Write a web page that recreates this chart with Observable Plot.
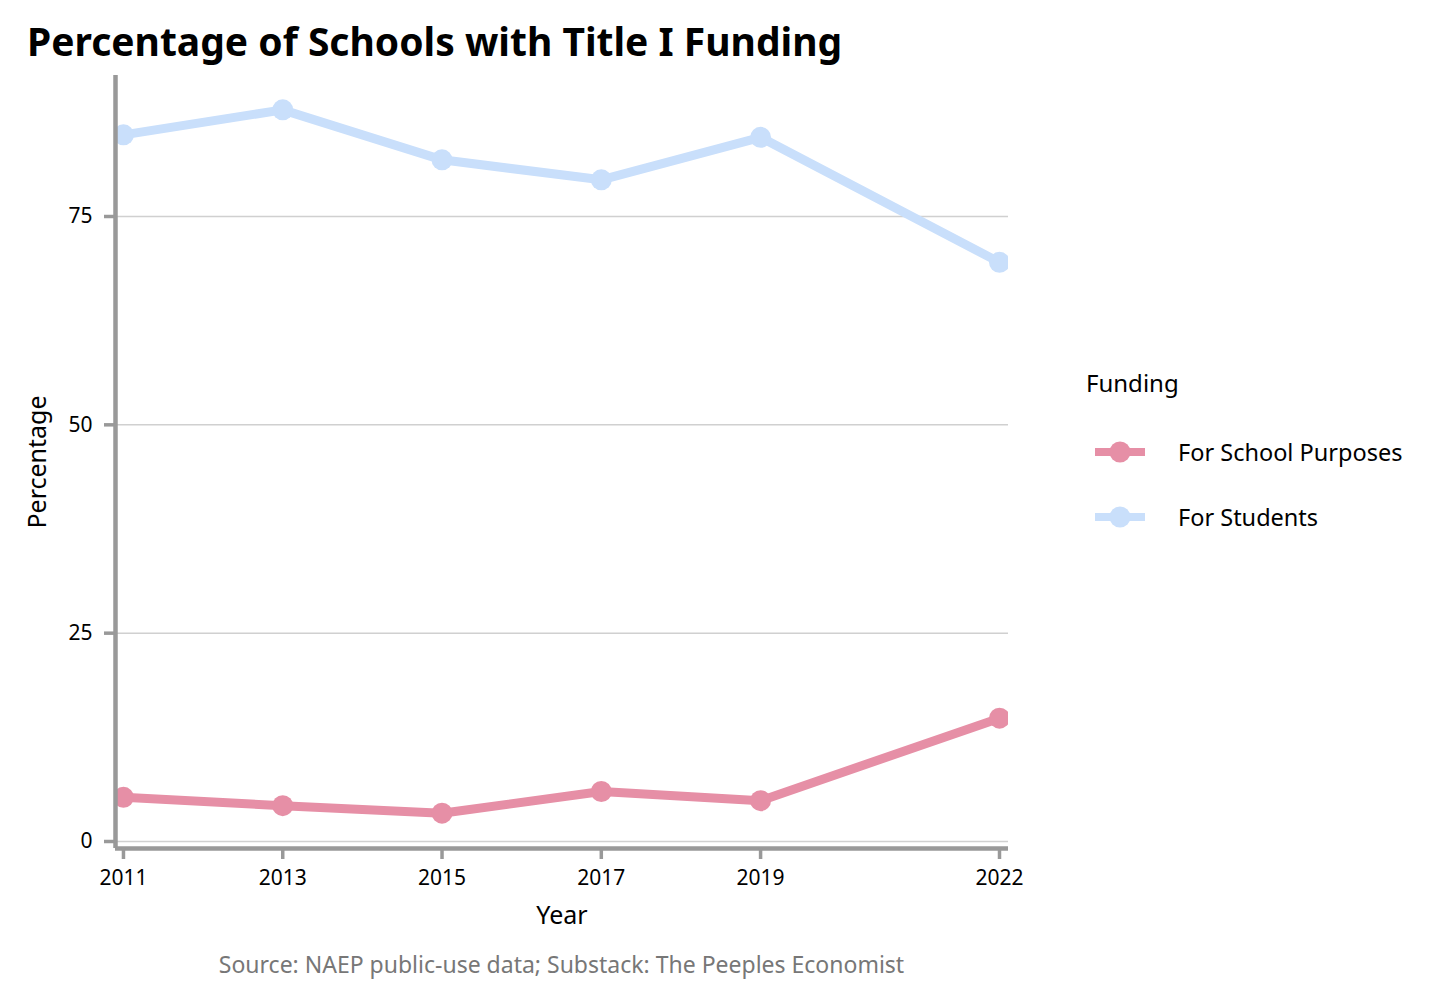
<!DOCTYPE html>
<html>
<head>
<meta charset="utf-8">
<script src="https://cdn.jsdelivr.net/npm/d3@7"></script>
<script src="https://cdn.jsdelivr.net/npm/@observablehq/plot@0.6"></script>
<style>
  body { margin: 0; background: #fff; font-family: "Noto Sans", sans-serif; }
  #wrap { position: relative; width: 1456px; height: 1001px; overflow: hidden; }
  #title { position: absolute; left: 27px; top: 14px; font-size: 39px; font-weight: 700; color: #000; white-space: nowrap; }
  #chart { position: absolute; left: 0; top: 70px; }
  #caption { position: absolute; left: 115px; width: 893px; top: 948px; text-align: center; font-size: 23px; color: #777; }
  #legend { position: absolute; left: 1086px; top: 0; width: 370px; height: 1001px; font-size: 23.5px; color: #000; }
  .lg-title { position: absolute; left: 0; top: 366px; font-size: 24px; }
  .lg-item { position: absolute; left: 0; display: flex; align-items: center; height: 34px; }
  .lg-item svg { margin-right: 32px; margin-left: 8px; }
</style>
</head>
<body>
<div id="wrap">
  <div id="title">Percentage of Schools with Title I Funding</div>
  <div id="chart"></div>
  <div id="legend"></div>
  <div id="caption">Source: NAEP public-use data; Substack: The Peeples Economist</div>
</div>
<script>
const years = [2011, 2013, 2015, 2017, 2019, 2022];
const seriesNames = ["For School Purposes", "For Students"];
const schoolPurposes = [5.3, 4.3, 3.4, 6.0, 4.9, 14.8];
const forStudents = [84.8, 87.8, 81.8, 79.4, 84.5, 69.5];
const yTicks = [0, 25, 50, 75];
const colors = ["#E68FA6", "#C9DFFB"];

const data = [];
years.forEach((y, i) => {
  data.push({year: y, value: schoolPurposes[i], series: seriesNames[0]});
  data.push({year: y, value: forStudents[i], series: seriesNames[1]});
});

const xDomain = [2010.9, 2022.113];
const yDomain = [-0.84, 91.92];

const chart = Plot.plot({
  width: 1060,
  height: 870,
  marginLeft: 115,
  marginRight: 52,
  marginTop: 5,
  marginBottom: 92,
  style: { fontFamily: "Noto Sans, sans-serif", fontSize: "21px", background: "#fff" },
  x: { domain: xDomain, label: null },
  y: { domain: yDomain, label: null },
  color: { domain: seriesNames, range: colors },
  marks: [
    Plot.gridY(yTicks, { stroke: "#d0d0d0", strokeOpacity: 1, strokeWidth: 1.5 }),
    Plot.line(data, { x: "year", y: "value", z: "series", stroke: "series", strokeWidth: 9, clip: "frame" }),
    Plot.dot(data, { x: "year", y: "value", fill: "series", r: 10.5, clip: "frame" }),
    Plot.ruleX([xDomain[0]], { stroke: "#999", strokeWidth: 4.5 }),
    Plot.ruleY([yDomain[0]], { stroke: "#999", strokeWidth: 4.5 }),
    Plot.axisX({ ticks: years, tickFormat: d => String(d), tickSize: 11, tickPadding: 11, stroke: "#999", strokeWidth: 3.5, fill: "#000", fontSize: 21, label: null }),
    Plot.axisY({ ticks: yTicks, tickSize: 11, tickPadding: 12, stroke: "#999", strokeWidth: 3.5, fill: "#000", fontSize: 21, label: null }),
    Plot.text(["Year"], { frameAnchor: "bottom", dy: 75, fontSize: 25, fill: "#000" }),
    Plot.text(["Percentage"], { frameAnchor: "left", textAnchor: "middle", dx: -78, rotate: -90, fontSize: 25, fill: "#000" })
  ]
});
document.getElementById("chart").appendChild(chart);

// Legend
const legend = document.getElementById("legend");
const t = document.createElement("div");
t.className = "lg-title";
t.textContent = "Funding";
legend.appendChild(t);
const itemCenters = [452, 517];
seriesNames.forEach((name, i) => {
  const item = document.createElement("div");
  item.className = "lg-item";
  item.style.top = (itemCenters[i] - 17) + "px";
  const ns = "http://www.w3.org/2000/svg";
  const svg = document.createElementNS(ns, "svg");
  svg.setAttribute("width", 52);
  svg.setAttribute("height", 24);
  const line = document.createElementNS(ns, "line");
  line.setAttribute("x1", 1); line.setAttribute("x2", 51);
  line.setAttribute("y1", 12); line.setAttribute("y2", 12);
  line.setAttribute("stroke", colors[i]); line.setAttribute("stroke-width", 8);
  const c = document.createElementNS(ns, "circle");
  c.setAttribute("cx", 26); c.setAttribute("cy", 12); c.setAttribute("r", 10.5);
  c.setAttribute("fill", colors[i]);
  svg.appendChild(line); svg.appendChild(c);
  const label = document.createElement("span");
  label.textContent = name;
  item.appendChild(svg); item.appendChild(label);
  legend.appendChild(item);
});
</script>
</body>
</html>
